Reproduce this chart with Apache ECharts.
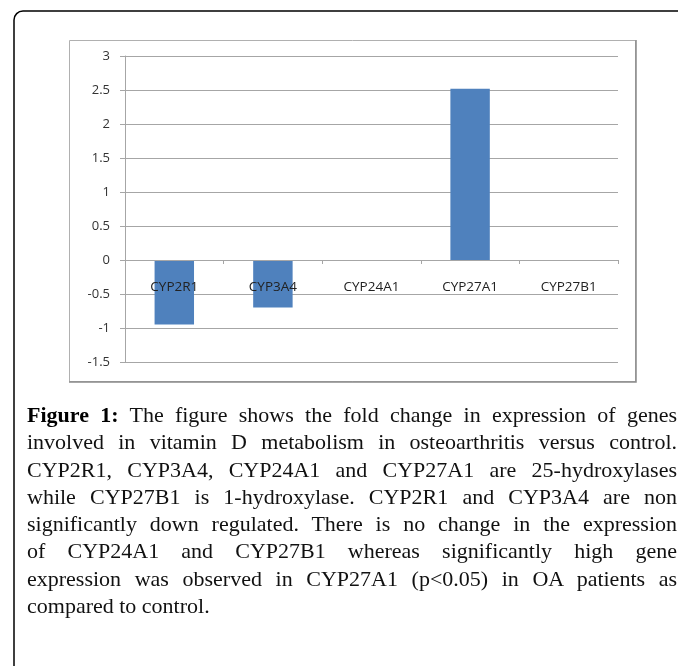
<!DOCTYPE html>
<html>
<head>
<meta charset="utf-8">
<script src="https://cdn.jsdelivr.net/npm/echarts@6/dist/echarts.min.js"></script>
<style>
  html, body { margin: 0; padding: 0; background: #fff; }
  #wrap { position: relative; width: 678px; height: 666px; overflow: hidden; }
  #chart { position: absolute; left: 0; top: 0; width: 678px; height: 666px; }
  #caption {
    position: absolute; left: 27px; top: 401px; width: 650px;
    font-family: "Liberation Serif", "Times New Roman", serif;
    font-size: 22px; line-height: 27.3px; color: #111;
  }
  #caption .ln { text-align: justify; text-align-last: justify; white-space: nowrap; }
  #caption .ln.last { text-align: left; text-align-last: left; }
  #caption b { font-weight: bold; color: #000; }
</style>
</head>
<body>
<div id="wrap">
  <div id="chart"></div>
  <div id="caption"></div>
</div>
<script>
// ---- data ----
const categories = ["CYP2R1", "CYP3A4", "CYP24A1", "CYP27A1", "CYP27B1"];
const foldChange = [-0.95, -0.70, 0, 2.52, 0];
const yMin = -1.5;
const yMax = 3;
const yStep = 0.5;
const captionLabel = "Figure 1:";
const captionLines = [
  " The figure shows the fold change in expression of genes",
  "involved in vitamin D metabolism in osteoarthritis versus control.",
  "CYP2R1, CYP3A4, CYP24A1 and CYP27A1 are 25-hydroxylases",
  "while CYP27B1 is 1-hydroxylase. CYP2R1 and CYP3A4 are non",
  "significantly down regulated. There is no change in the expression",
  "of CYP24A1 and CYP27B1 whereas significantly high gene",
  "expression was observed in CYP27A1 (p<0.05) in OA patients as",
  "compared to control."
];

// ---- caption ----
const cap = document.getElementById('caption');
captionLines.forEach((t, i) => {
  const d = document.createElement('div');
  d.className = 'ln' + (i === captionLines.length - 1 ? ' last' : '');
  if (i === 0) {
    const b = document.createElement('b');
    b.textContent = captionLabel;
    d.appendChild(b);
    d.appendChild(document.createTextNode(t));
  } else {
    d.textContent = t;
  }
  if (i < captionLines.length - 1) d.style.whiteSpace = 'normal';
  cap.appendChild(d);
});

// ---- chart ----
const gridTop = 56, gridHeight = 306;
// place the category axis at the zero line of the value axis
const zeroOffset = -gridHeight * (0 - yMin) / (yMax - yMin);

const chart = echarts.init(document.getElementById('chart'), null, { renderer: 'canvas' });
const gridColor = '#a6a6a6';
chart.setOption({
  animation: false,
  backgroundColor: '#fff',
  graphic: [
    {
      type: 'rect', z: -10, silent: true,
      shape: { x: 14, y: 11, width: 720, height: 720, r: [9, 0, 0, 0] },
      style: { fill: 'none', stroke: '#000', lineWidth: 1.5 }
    },
    {
      type: 'rect', z: -10, silent: true,
      shape: { x: 69.5, y: 40.5, width: 566, height: 341 },
      style: { fill: 'none', stroke: '#b0b0b0', lineWidth: 1 }
    },
    {
      type: 'polyline', z: -10, silent: true,
      shape: { points: [[636, 40], [636, 382], [69, 382]] },
      style: { fill: 'none', stroke: '#8a8a8a', lineWidth: 1.5 }
    }
  ],
  grid: { left: 125, top: gridTop, width: 493, height: gridHeight, containLabel: false },
  xAxis: {
    type: 'category',
    data: categories,
    z: 5,
    offset: zeroOffset,
    axisLine: { onZero: false, lineStyle: { color: gridColor, width: 1 } },
    axisTick: { show: true, alignWithLabel: false, length: 4, lineStyle: { color: gridColor } },
    axisLabel: {
      margin: 20, color: '#222',
      fontFamily: 'Open Sans', fontSize: 13.5
    },
    splitLine: { show: false }
  },
  yAxis: {
    type: 'value',
    min: yMin, max: yMax, interval: yStep,
    axisLine: { show: true, lineStyle: { color: gridColor, width: 1 } },
    axisTick: { show: true, length: 5, lineStyle: { color: gridColor } },
    axisLabel: {
      margin: 15, color: '#333',
      fontFamily: 'Open Sans', fontSize: 13
    },
    splitLine: { show: true, lineStyle: { color: gridColor, width: 1 } }
  },
  series: [{
    type: 'bar',
    data: foldChange,
    barWidth: '40%',
    itemStyle: { color: '#4F81BD' }
  }]
});
</script>
</body>
</html>
